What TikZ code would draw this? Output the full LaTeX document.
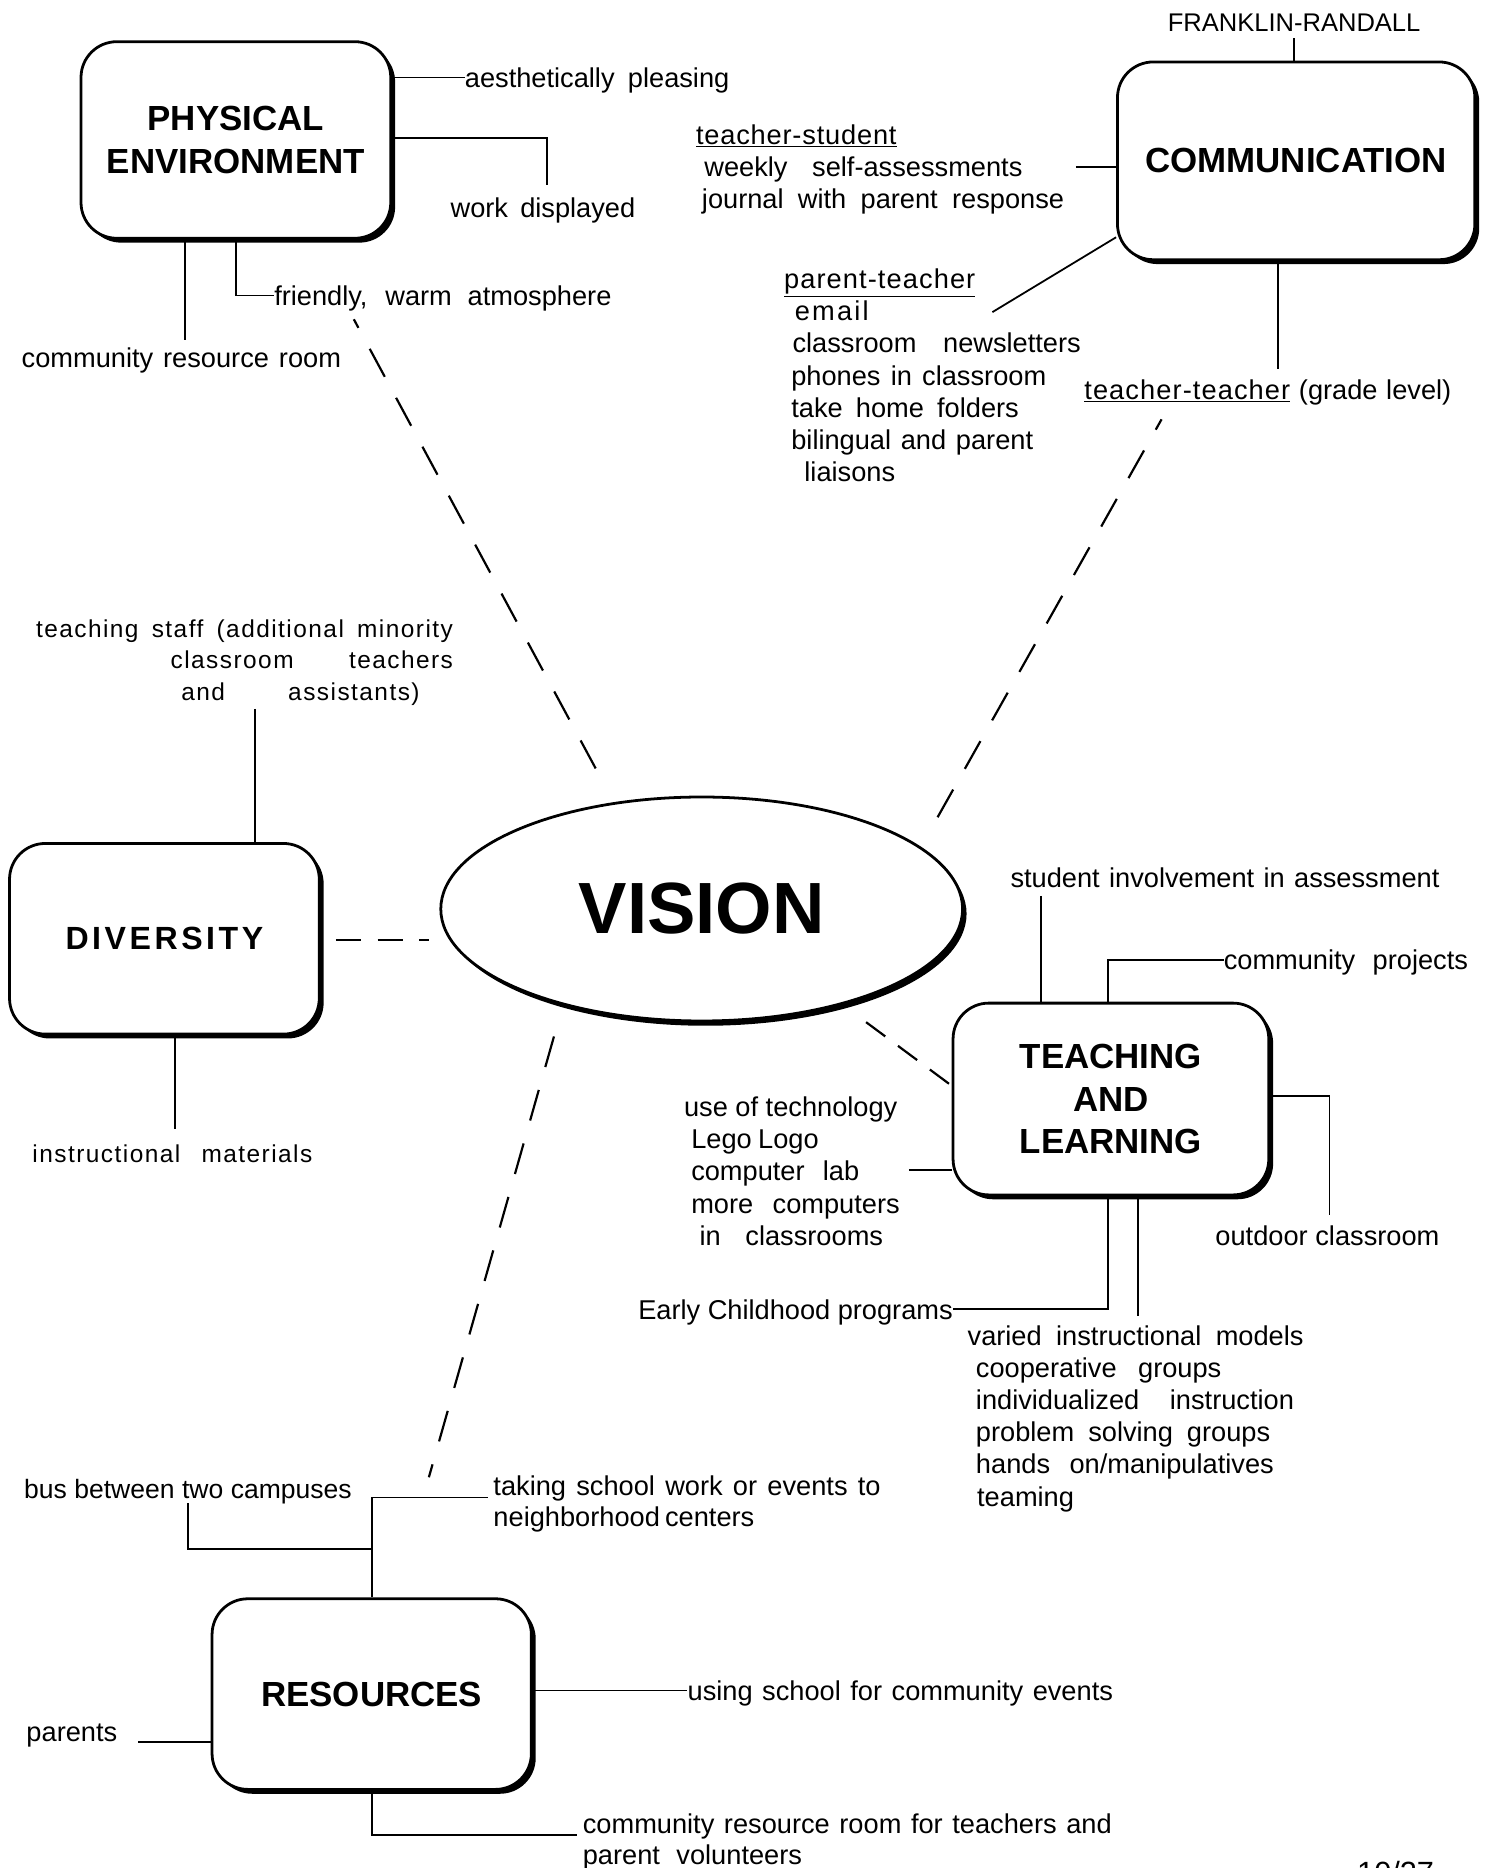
\documentclass[tikz,border=0pt]{standalone}
\usepackage{fontspec}
\setmainfont{Liberation Sans}
\newfontfamily\plainfont{Liberation Sans}
\newfontfamily\widefont{Liberation Sans}[LetterSpace=6]
\usetikzlibrary{shapes.geometric,shadows,calc}
\newlength\pxu
\setlength\pxu{0.3mm}
\newcommand\fitw[2]{\makebox[#1\pxu][s]{#2}}
\tikzset{
  lbl/.style={inner sep=0pt, anchor=west, text height=18pt, text depth=4pt,
    font=\plainfont\fontsize{19.5}{23}\selectfont},
  lblw/.style={lbl, font=\widefont\fontsize{17.5}{23}\selectfont},
  box/.style={draw, line width=0.7mm, rounded corners=9mm, fill=white, align=center,
    drop shadow={shadow xshift=1.1mm, shadow yshift=-1.1mm, fill=black, opacity=1},
    font=\plainfont\bfseries\fontsize{25}{30.5}\selectfont},
  conn/.style={line width=0.45mm},
  dashline/.style={line width=0.55mm, dash pattern=on 8mm off 6mm}
}
\begin{document}
\begin{tikzpicture}[x=0.3mm,y=-0.3mm]
\useasboundingbox (0,0) rectangle (1250,1568);

% ---------- central node ----------
\node[ellipse, draw, line width=0.7mm, fill=white, inner sep=0pt,
  drop shadow={shadow xshift=1mm, shadow yshift=-1.2mm, fill=black, opacity=1},
  minimum width=131.4mm, minimum height=56.4mm,
  font=\plainfont\bfseries\fontsize{52}{60}\selectfont] (vision) at (589,763) {VISION};

% ---------- boxes ----------
\node[box, minimum width=78mm, minimum height=49.5mm] (pe) at (198,117.5) {PHYSICAL\\ENVIRONMENT};
\node[box, minimum width=90mm, minimum height=49.8mm] (comm) at (1088,135) {COMMUNICATION};
\node[box, minimum width=78mm, minimum height=48mm,
  font=\widefont\addfontfeature{LetterSpace=11}\bfseries\fontsize{23}{28}\selectfont] (div) at (138,788) {DIVERSITY};
\node[box, minimum width=79.5mm, minimum height=48.3mm] (tl) at (932.5,922.5) {TEACHING\\AND\\LEARNING};
\node[box, minimum width=80.4mm, minimum height=48mm] (res) at (312,1422) {RESOURCES};

% ---------- PHYSICAL ENVIRONMENT ----------
\node[lbl] (aes) at (390,65) {\fitw{222}{aesthetically pleasing}};
\node[lbl] (wd) at (378,174) {\fitw{155}{work displayed}};
\node[lbl] (fr) at (230,248) {\fitw{283}{friendly, warm atmosphere}};
\node[lbl] (crr) at (18,300) {\fitw{268}{community resource room}};
\draw[conn] (pe.east |- aes.west) -- (aes.west);
\coordinate (p1) at (459,155);
\draw[conn] (pe.east |- 0,116) -- (p1 |- 0,116) -- (p1);
\draw[conn] (pe.south) |- (fr.west);
\coordinate (p2) at (155,285);
\draw[conn] (p2 |- pe.south) -- (p2);

% ---------- COMMUNICATION ----------
\node[lbl, font=\plainfont\fontsize{18.3}{22}\selectfont] (frk) at (980,18) {FRANKLIN-RANDALL};
\coordinate (c0) at (1086,32);
\draw[conn] (c0) -- (c0 |- comm.north);
\node[lbl] (ts1) at (584,113) {\addfontfeature{LetterSpace=3}\underline{teacher-student}};
\node[lbl] (ts2) at (591,140) {\fitw{267}{weekly self-assessments}};
\node[lbl] (ts3) at (589,167) {\fitw{304}{journal with parent response}};
\coordinate (c1) at (903,140);
\draw[conn] (c1) -- (c1 -| comm.west);
\node[lbl] (pt1) at (658,234) {\addfontfeature{LetterSpace=4}\underline{parent-teacher}};
\node[lbl] (pt2) at (667,261) {\addfontfeature{LetterSpace=8}email};
\node[lbl] (pt3) at (665,288) {\fitw{242}{classroom newsletters}};
\node[lbl] (pt4) at (664,315) {\fitw{214}{phones in classroom}};
\node[lbl] (pt5) at (664,342) {\fitw{191}{take home folders}};
\node[lbl] (pt6) at (664,369) {\fitw{203}{bilingual and parent}};
\node[lbl] (pt7) at (675,396) {liaisons};
\coordinate (c2) at (833,262);
\draw[conn] (comm.203.7) -- (c2);
\node[lbl] (tt) at (910,327) {\fitw{308}{{\addfontfeature{LetterSpace=4}\underline{teacher-teacher}} (grade level)}};
\coordinate (c3) at (1073,310);
\draw[conn] (c3 |- comm.south) -- (c3);

% ---------- DIVERSITY ----------
\node[lblw] (ds1) at (30,527) {\fitw{350}{teaching staff (additional minority}};
\node[lblw] (ds2) at (143,553) {\fitw{237}{classroom teachers}};
\node[lblw] (ds3) at (152,580) {\fitw{200}{and assistants)}};
\coordinate (d1) at (214,595);
\draw[conn] (d1) -- (d1 |- div.north);
\node[lblw] (im) at (27,968) {\fitw{235}{instructional materials}};
\coordinate (d2) at (147,948);
\draw[conn] (d2 |- div.south) -- (d2);

% ---------- TEACHING AND LEARNING ----------
\node[lbl] (sia) at (848,737) {\fitw{360}{student involvement in assessment}};
\coordinate (t1) at (874,752);
\draw[conn] (t1) -- (t1 |- tl.north);
\node[lbl] (cp) at (1027,806) {\fitw{205}{community projects}};
\coordinate (t2) at (930,806);
\draw[conn] (t2 |- tl.north) -- (t2) -- (cp.west);
\node[lbl] (oc) at (1020,1037) {\fitw{188}{outdoor classroom}};
\coordinate (t6) at (1116,1020);
\draw[conn] (tl.east |- 0,920) -| (t6);
\node[lbl] (u1) at (574,929) {\fitw{179}{use of technology}};
\node[lbl] (u2) at (580,956) {\fitw{107}{Lego Logo}};
\node[lbl] (u3) at (580,983) {\fitw{141}{computer lab}};
\node[lbl] (u4) at (580,1010) {\fitw{175}{more computers}};
\node[lbl] (u5) at (587,1037) {\fitw{154}{in classrooms}};
\coordinate (t3) at (763,982);
\draw[conn] (t3) -- (t3 -| tl.west);
\node[lbl, anchor=east] (ec) at (800,1099) {\fitw{264}{Early Childhood programs}};
\coordinate (t4) at (930,1099);
\draw[conn] (t4 |- tl.south) -- (t4) -- (ec.east);
\coordinate (t5) at (955,1105);
\draw[conn] (t5 |- tl.south) -- (t5);
\node[lbl] (v1) at (812,1121) {\fitw{282}{varied instructional models}};
\node[lbl] (v2) at (819,1148) {\fitw{206}{cooperative groups}};
\node[lbl] (v3) at (819,1175) {\fitw{267}{individualized instruction}};
\node[lbl] (v4) at (819,1202) {\fitw{247}{problem solving groups}};
\node[lbl] (v5) at (819,1229) {\fitw{250}{hands on/manipulatives}};
\node[lbl] (v6) at (820,1256) {teaming};

% ---------- RESOURCES ----------
\node[lbl, font=\plainfont\fontsize{19}{23}\selectfont] (bus) at (20,1250) {\fitw{275}{bus between two campuses}};
\node[lbl] (tk1) at (414,1247) {\fitw{325}{taking school work or events to}};
\node[lbl] (tk2) at (414,1273) {\fitw{219}{neighborhood centers}};
\coordinate (r1) at (410,1257);
\draw[conn] (res.north) |- (r1);
\coordinate (r2) at (312,1300);
\coordinate (r3) at (158,1262);
\draw[conn] (r2) -| (r3);
\node[lbl] (usc) at (577,1419) {\fitw{357}{using school for community events}};
\draw[conn] (res.east |- usc.west) -- (usc.west);
\node[lbl] (par) at (22,1454) {parents};
\coordinate (r4) at (116,1462);
\draw[conn] (r4) -- (r4 -| res.west);
\node[lbl] (crt1) at (489,1531) {\fitw{444}{community resource room for teachers and}};
\node[lbl] (crt2) at (489,1557) {\fitw{184}{parent volunteers}};
\coordinate (r5) at (484,1540);
\draw[conn] (res.south) |- (r5);

% ---------- dashed links to VISION ----------
\coordinate (a1) at (500,645); \coordinate (a2) at (297,268);
\draw[dashline] (a1) -- (a2);
\coordinate (b1) at (787,686); \coordinate (b2) at (975,352);
\draw[dashline] (b1) -- (b2);
\coordinate (e1) at (360,789); \coordinate (e2) at (282,789);
\draw[line width=0.55mm, dash pattern=on 6.3mm off 4.2mm] (e2) -- (e1);
\coordinate (f1) at (727,858); \coordinate (f2) at (797,910);
\draw[line width=0.55mm, dash pattern=on 6mm off 4mm] (f1) -- (f2);
\coordinate (g1) at (465,870); \coordinate (g2) at (360,1240);
\draw[dashline] (g1) -- (g2);

% ---------- page number (cut at the bottom edge, as in the original) ----------
\node[lbl, font=\plainfont\fontsize{22}{26}\selectfont] (pg) at (1139,1573) {\fitw{66}{10/27}};
\end{tikzpicture}
\end{document}
